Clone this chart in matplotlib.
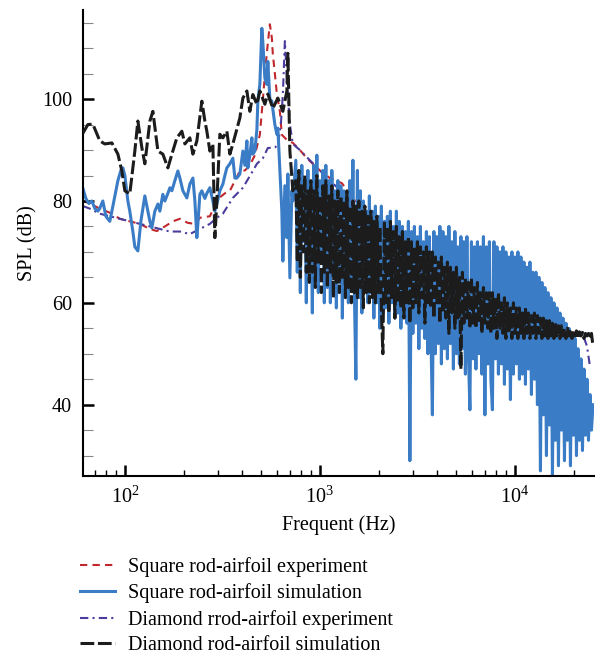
import matplotlib
matplotlib.use('Agg')
import matplotlib.pyplot as plt
from matplotlib.ticker import FixedLocator, LogLocator


# Square rod-airfoil experiment (red dashed)
f_sq_exp = [60.9, 66.1, 74.4, 83.7, 94.3, 106, 119.4, 134.4, 145.9, 160.4, 176.2, 191.5,
            210.4, 228.6, 242.5, 272.9, 299.9, 325.7, 345.6, 388.8, 412.6, 437.5, 464.2,
            492.4, 510.3, 528.5, 541, 554.1, 567.3, 574, 587.8, 601.8, 623.6, 638.3, 677.4,
            727.1, 789.8, 857.6, 1000, 1125, 1296, 1604, 2031, 2573, 3257, 4126, 5224,
            6615, 8376, 10606, 13431, 17007, 21544, 24276]
spl_sq_exp = [80, 79.5, 78.5, 77.7, 76.5, 76, 75.5, 74.5, 74.1, 75, 76, 76.5,
              75.7, 75.5, 76.7, 77, 80.4, 81.5, 82, 85.9, 86, 87, 89,
              93, 100, 107, 111, 114.7, 112, 108.8, 105, 101, 97.6, 93, 92,
              91.4, 90, 88.4, 86, 84.5, 83.5, 79, 74.5, 70.5, 67, 64, 61.5,
              59.5, 58, 56.5, 55.5, 54.5, 54, 53.5]

# Diamond rod-airfoil experiment (purple dash-dot)
f_dia_exp = [60.9, 66.1, 74.4, 83.7, 94.3, 106, 119.4, 134.4, 151.2, 170.2, 191.5, 215.4,
             242.5, 272.9, 296.3, 318.1, 357.9, 402.9, 453.3, 475.3, 510.3, 541, 587.8,
             608.9, 631, 646, 661.5, 677.4, 701.8, 727.1, 789.8, 1125, 1604, 2031, 2573,
             3666, 5224, 6615, 8376, 11946, 17007, 20333, 22590, 23431, 24276]
spl_dia_exp = [79, 78.5, 77.5, 77, 76.5, 76, 75.5, 75, 74.5, 74, 74, 73.5,
               74.5, 75.5, 76.7, 77.5, 80.6, 82.6, 85.9, 87.3, 88.4, 90.4, 90.5,
               91, 95, 101, 111.4, 104, 95, 91.2, 90, 84, 78.5, 74.5, 70.5,
               66, 61.5, 59.5, 58, 56, 54.5, 53.8, 53.2, 51.5, 47.5]

# Square rod-airfoil simulation (blue), low-frequency part
f_sq_sim_lo = [60.9, 63.1, 65.4, 67.7, 70.2, 72.7, 74.4, 77.1, 79.9, 83.7, 85.8, 88.9,
               92.1, 95.4, 97.7, 100, 103.6, 106, 109.9, 112.5, 116.6, 120.8, 126.6,
               131.2, 134.4, 137.5, 142.5, 147.7, 151.2, 156.6, 160.4, 166.2, 170.2,
               174.2, 180.5, 187, 191.5, 198.4, 207.9, 215.4, 223.3, 228.6, 234, 236.8,
               242.5, 248.2, 257.2, 263.3, 272.9, 282.7, 289.4, 296.3, 307, 318.1,
               325.7, 333.4, 345.6, 357.9, 366.6, 375.3, 388.8, 402.9, 412.6, 422.4,
               427.4, 437.5, 448, 453.3, 464.2, 475.3, 480.9, 492.4, 504, 510.3, 522.4,
               534.8, 541, 554.1, 567.3, 574, 587.8, 601.8, 608.9, 623.6, 638.3, 646,
               661.5, 677.4, 685.4, 701.8, 718.6, 727.1]
spl_sq_sim_lo = [82.5, 80.5, 79.5, 80, 78.5, 78, 78.6, 80, 77, 76, 78, 81,
                 84, 86, 86.5, 85, 80, 78, 74, 71, 70.2, 76, 81,
                 78, 76, 74.7, 78, 79.4, 78, 81.3, 80, 81.5, 82.6,
                 82, 84, 85.9, 84.5, 82, 80.6, 83.3, 84.5, 80, 72.8, 75.5,
                 81.3, 82, 80.5, 81.5, 82.6, 80, 78, 79.4, 82, 83.3,
                 85, 86.5, 87.3, 88.4, 84.5, 84.5, 85.3, 89.8, 87, 91.8,
                 86.5, 89, 92.4, 89.2, 89.8, 94, 99.6, 103, 113.9, 111, 104.1,
                 102.9, 107.4, 100, 99.6, 98, 95, 93.1, 94.3, 85.9, 78, 68.2,
                 83, 72.8, 85.3, 64.9, 82, 80]

# Diamond rod-airfoil simulation (black dashed), low-frequency part
f_dia_sim_lo = [60.9, 64.6, 68.5, 74.4, 78.9, 85.8, 92.1, 96.5, 100, 106, 112.5, 116.6,
                122.3, 126.6, 134.4, 139.2, 147.7, 156.6, 166.2, 176.2, 184.8, 196, 203.2,
                215.4, 223.3, 234, 248.2, 257.2, 263.3, 272.9, 282.7, 289.4, 296.3, 307,
                318.1, 333.4, 345.6, 357.9, 388.8, 402.9, 422.4, 437.5, 453.3, 475.3,
                492.4, 522.4, 541, 574, 608.9, 646, 677.4, 685.4, 701.8, 727.1]
spl_dia_sim_lo = [93.3, 95, 95.1, 91.8, 91.2, 91.4, 89.2, 85.9, 82, 81.4, 89.8, 95.7,
                  90.4, 87.3, 95.7, 97.6, 89.8, 89.2, 86.5, 89.8, 92.4, 93.7, 91.2,
                  92.4, 89.2, 91.8, 99.6, 95.7, 93.7, 89.8, 91.2, 72.8, 80, 93.1,
                  92.4, 93.7, 89.2, 91.2, 96.3, 100.2, 101.6, 97.6, 100.9, 99,
                  101.6, 99, 101, 98.2, 100.2, 97.6, 101.6, 109, 89.8, 82]

# high-frequency part, shared frequency list for both simulations
f_hf = [753, 766, 780, 794, 808, 822, 837, 852, 868, 883,
        899, 915, 931, 948, 965, 982, 1000, 1018, 1036, 1054,
        1073, 1092, 1112, 1132, 1152, 1173, 1194, 1215, 1237, 1259,
        1281, 1304, 1328, 1352, 1376, 1400, 1425, 1451, 1477, 1503,
        1530, 1557, 1585, 1613, 1642, 1671, 1701, 1732, 1763, 1794,
        1826, 1859, 1892, 1926, 1960, 1995, 2031, 2067, 2104, 2142,
        2180, 2219, 2259, 2299, 2340, 2382, 2425, 2468, 2512, 2557,
        2603, 2650, 2697, 2745, 2794, 2844, 2895, 2947, 2999, 3053,
        3107, 3163, 3219, 3277, 3336, 3395, 3456, 3518, 3581, 3645,
        3710, 3776, 3844, 3913, 3982, 4054, 4126, 4200, 4275, 4351,
        4429, 4508, 4589, 4671, 4754, 4839, 4926, 5014, 5104, 5195,
        5288, 5382, 5478, 5576, 5676, 5778, 5881, 5986, 6093, 6202,
        6313, 6426, 6540, 6657, 6776, 6897, 7021, 7146, 7274, 7404,
        7536, 7671, 7808, 7948, 8090, 8234, 8381, 8531, 8684, 8839,
        8997, 9158, 9322, 9488, 9658, 9830, 10006, 10185, 10367, 10552,
        10741, 10933, 11129, 11328, 11530, 11736, 11946, 12160, 12377, 12598,
        12824, 13053, 13287, 13524, 13766, 14012, 14263, 14518, 14778, 15042,
        15311, 15585, 15864, 16147, 16436, 16730, 17030, 17334, 17644, 17960,
        18281, 18608, 18941, 19279, 19624, 19975, 20333, 20696, 21066, 21443,
        21827, 22217, 22614, 23018, 23431, 23850, 24276, 24710, 25152]
spl_sq_sim_hf = [88, 66, 85, 62, 87, 72, 84, 60, 86, 68,
                 80, 58, 87, 65, 89, 62, 84, 70, 86, 60,
                 87, 63, 84, 60, 86, 67, 82, 59, 84, 64,
                 83, 57, 82, 62, 81, 60, 84, 64, 88, 62,
                 45, 86, 61, 82, 58, 80, 63, 78, 60, 81,
                 62, 78, 57, 79, 60, 77, 55, 79, 58, 76,
                 59, 77, 56, 78, 60, 75, 57, 78, 58, 76,
                 55, 75, 58, 74, 56, 76, 29, 74, 54, 75,
                 56, 73, 51, 75, 55, 72, 53, 74, 50, 73,
                 54, 38, 74, 50, 73, 52, 75, 48, 74, 51,
                 73, 49, 75, 52, 72, 47, 74, 50, 71, 48,
                 73, 51, 72, 46, 73, 50, 39, 72, 49, 71,
                 47, 72, 50, 71, 46, 73, 38, 71, 48, 72,
                 45, 39, 72, 49, 71, 46, 70, 48, 71, 44,
                 70, 47, 69, 41, 70, 46, 69, 48, 70, 45,
                 69, 46, 68, 44, 67, 47, 68, 42, 66, 45,
                 66, 40, 65, 27, 64, 38, 63, 30, 62, 36,
                 61, 26, 60, 33, 59, 28, 58, 35, 57, 29,
                 56, 33, 55, 28, 54, 34, 53, 30, 51, 33,
                 49, 31, 47, 34, 45, 33, 42, 35, 40]
spl_dia_sim_hf = [84, 68, 86, 65, 83, 70, 85, 66, 82, 64,
                  84, 66, 82, 63, 85, 68, 81, 62, 83, 66,
                  84, 63, 81, 66, 83, 61, 80, 64, 82, 62,
                  81, 65, 80, 61, 82, 63, 79, 60, 80, 62,
                  79, 61, 80, 63, 78, 59, 79, 62, 77, 60,
                  78, 61, 76, 60, 77, 62, 75, 59, 50, 76,
                  60, 75, 58, 76, 61, 74, 57, 75, 60, 73,
                  59, 74, 57, 72, 60, 73, 56, 72, 59, 71,
                  60, 72, 58, 71, 61, 70, 56, 71, 60, 70,
                  59, 70, 57, 69, 60, 68, 56, 69, 58, 67,
                  57, 68, 54, 67, 58, 66, 55, 67, 57, 65,
                  47, 66, 56, 65, 57, 64, 55, 65, 56, 63,
                  55, 64, 56, 62, 54, 63, 56, 62, 55, 62,
                  54, 62, 55, 61, 53, 62, 55, 60, 54, 61,
                  53, 60, 54.5, 59, 53, 60, 54, 59, 53, 59,
                  54, 58, 53, 59, 54, 58, 53, 57.5, 54, 58,
                  53, 57.5, 54, 57, 53, 57, 53.5, 56.5, 53, 56.5,
                  53.5, 56, 53, 56, 53.5, 55.5, 53, 55.5, 53.5, 55,
                  53, 55, 53.5, 54.8, 53, 54.5, 53.5, 54.5, 53, 54.3,
                  53.5, 54.2, 53, 54, 53.5, 54, 53.2, 54, 51.5]

f_sq_sim = f_sq_sim_lo + f_hf
spl_sq_sim = spl_sq_sim_lo + spl_sq_sim_hf
f_dia_sim = f_dia_sim_lo + f_hf
spl_dia_sim = spl_dia_sim_lo + spl_dia_sim_hf

labels = ['Square rod-airfoil experiment', 'Square rod-airfoil simulation',
          'Diamond rrod-airfoil experiment', 'Diamond rod-airfoil simulation']

plt.rcParams['font.family'] = 'Liberation Serif'
plt.rcParams['mathtext.fontset'] = 'custom'
plt.rcParams['mathtext.rm'] = 'Liberation Serif'
plt.rcParams['font.size'] = 14.5

fig = plt.figure(figsize=(5.95, 6.54), dpi=100)
ax = fig.add_axes([0.1395, 0.2722, 0.8585, 0.7125])

l1, = ax.plot(f_sq_exp, spl_sq_exp, color='#c0282d', lw=1.5, ls=(0, (3.5, 2.5)), zorder=1.5)
l3, = ax.plot(f_dia_exp, spl_dia_exp, color='#4a3c9c', lw=1.5, ls=(0, (4, 2, 1, 2)), zorder=1.6)
l2, = ax.plot(f_sq_sim, spl_sq_sim, color='#3a7dc6', lw=2.2, zorder=2)
l4, = ax.plot(f_dia_sim, spl_dia_sim, color='#1c1c1c', lw=2.2, ls=(0, (4.5, 1.2)), zorder=3)

ax.set_xscale('log')
ax.set_xlim(61, 25400)
ax.set_ylim(26, 117.5)

ax.spines['top'].set_visible(False)
ax.spines['right'].set_visible(False)
ax.spines['left'].set_linewidth(1.5)
ax.spines['bottom'].set_linewidth(1.5)

ax.yaxis.set_major_locator(FixedLocator([40, 60, 80, 100]))
ax.yaxis.set_minor_locator(FixedLocator([30, 35, 45, 50, 55, 65, 70, 75, 85, 90, 95, 105, 110, 115]))
ax.xaxis.set_minor_locator(LogLocator(base=10, subs=range(2, 10), numticks=20))

ax.tick_params(which='major', direction='in', length=8, width=1.8, labelsize=14.5)
ax.tick_params(axis='x', which='major', pad=8)
ax.tick_params(axis='y', which='major', pad=8)
ax.tick_params(axis='x', which='minor', direction='in', length=4.5, width=1.0)
ax.tick_params(axis='y', which='minor', direction='in', length=7, width=0.8, color='#888888')

ax.set_xlabel('Frequent (Hz)', fontsize=14.5, labelpad=5)
ax.set_ylabel('SPL (dB)', fontsize=14.5, labelpad=3)

fig.legend([l1, l2, l3, l4], labels, loc='upper left', bbox_to_anchor=(0.134, 0.148),
           frameon=False, fontsize=14.5, handlelength=1.75, handletextpad=0.65,
           labelspacing=0.32, borderpad=0, borderaxespad=0)

fig.savefig('out.png', dpi=100)
